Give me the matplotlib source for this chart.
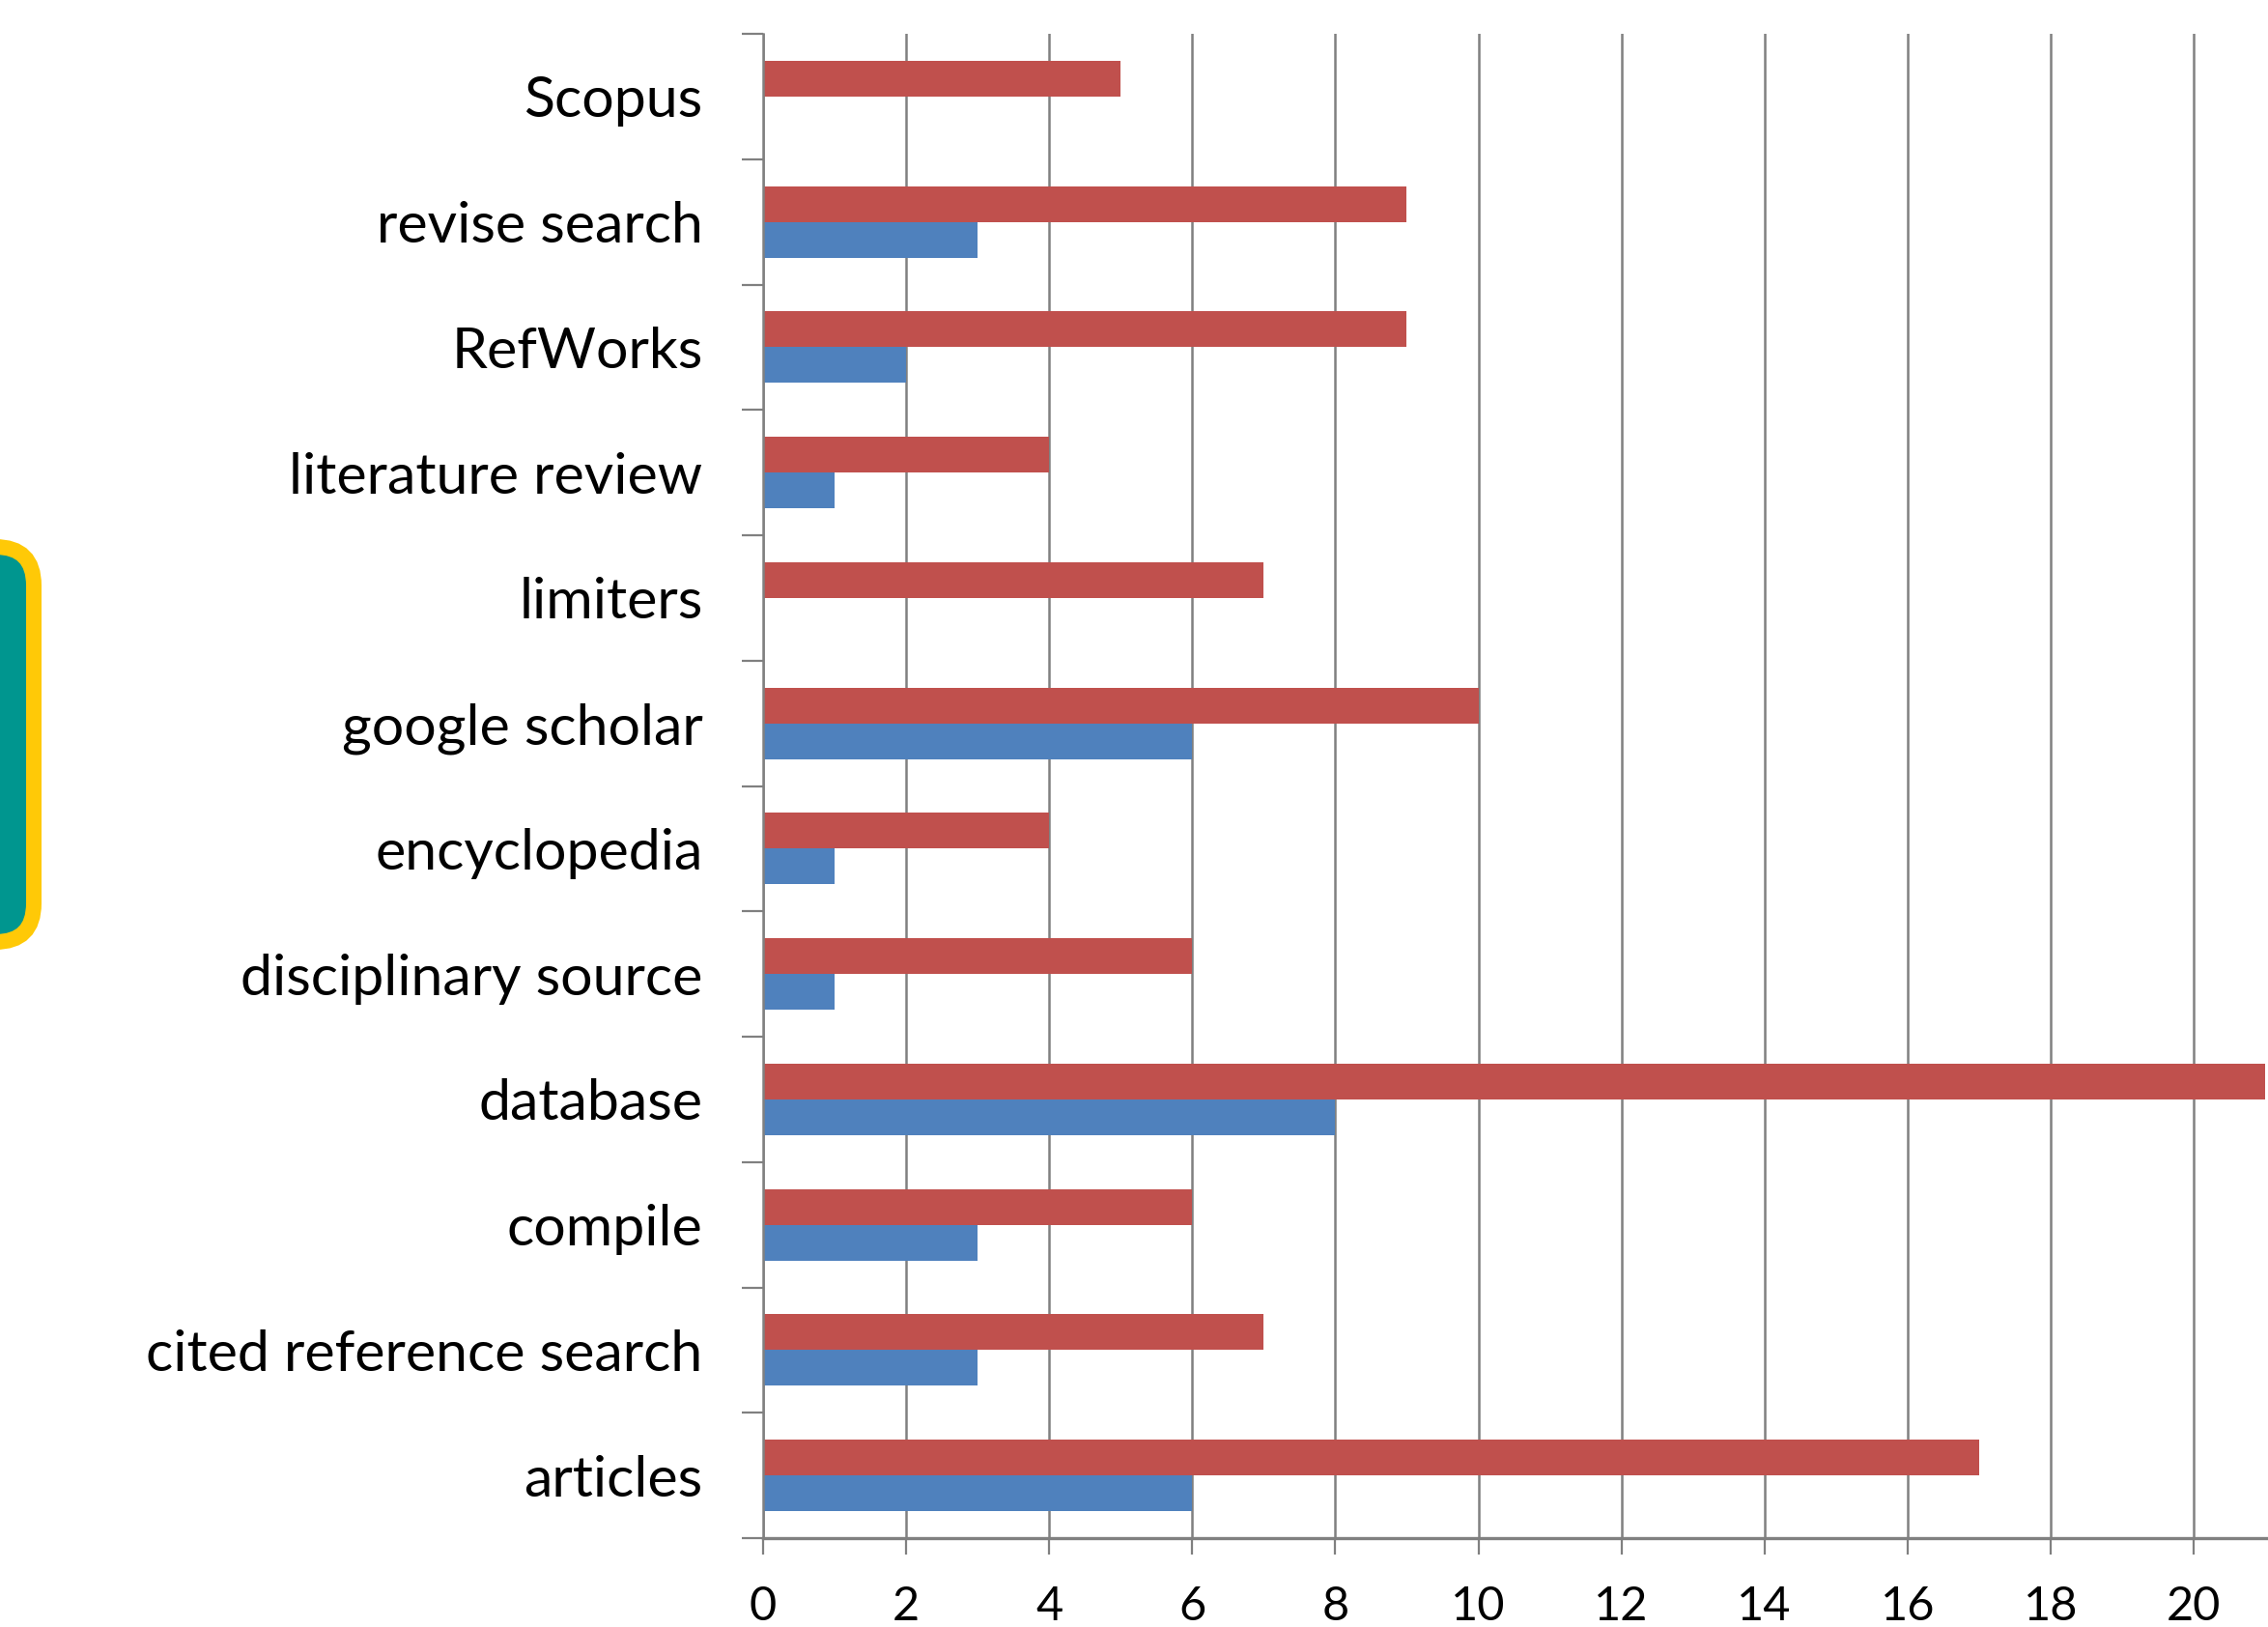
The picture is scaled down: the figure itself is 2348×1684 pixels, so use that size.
import matplotlib.pyplot as plt
from matplotlib.patches import FancyBboxPatch
import numpy as np

# search terms, bottom to top as on the axis
terms = ['articles', 'cited reference search', 'compile', 'database',
         'disciplinary source', 'encyclopedia', 'google scholar', 'limiters',
         'literature review', 'RefWorks', 'revise search', 'Scopus']
blue_vals = [6, 3, 3, 8, 1, 1, 6, 0, 1, 2, 3, 0]
red_vals = [17, 7, 6, 21, 6, 4, 10, 7, 4, 9, 9, 5]
xticks = [0, 2, 4, 6, 8, 10, 12, 14, 16, 18, 20]

plt.rcParams['font.family'] = ['Lato', 'DejaVu Sans']

W, H = 2348, 1684
fig = plt.figure(figsize=(W / 100, H / 100), dpi=100)

# side tab on the left edge
bg = fig.add_axes([0, 0, 1, 1], zorder=-1)
bg.set_xlim(0, W)
bg.set_ylim(H, 0)
bg.axis('off')
tab = FancyBboxPatch((-80, 566), 115, 409,
                     boxstyle='round,pad=0,rounding_size=40',
                     facecolor='#00968f', edgecolor='#ffc907',
                     linewidth=11.5)
bg.add_patch(tab)

left = 790 / W
bottom = 1 - 1592 / H
top = 1 - 35 / H
ax = fig.add_axes([left, bottom, 1 - left, top - bottom])

y = np.arange(len(terms))
bh = 1 / 3.5
ax.barh(y + bh / 2, red_vals, height=bh, color='#c0504d', zorder=2)
ax.barh(y - bh / 2, blue_vals, height=bh, color='#4f81bd', zorder=2)

ax.set_xlim(0, (W - 790) / 74.05)
ax.set_ylim(-0.5, len(terms) - 0.5)

ax.set_xticks(xticks)
ax.set_xticklabels([str(v) for v in xticks], fontsize=35)
ax.set_yticks(y)
ax.set_yticklabels(terms, fontsize=42.5)
ax.set_yticks(np.arange(len(terms) + 1) - 0.5, minor=True)

grey = '#808080'
ax.grid(axis='x', color=grey, linewidth=1.8, zorder=0)
ax.set_axisbelow(True)
ax.tick_params(axis='y', which='major', length=0, pad=45)
ax.tick_params(axis='y', which='minor', length=16, width=1.6, color=grey)
ax.tick_params(axis='x', length=12, width=1.6, color=grey, pad=23)

for s in ['top', 'right']:
    ax.spines[s].set_visible(False)
ax.spines['left'].set_color(grey)
ax.spines['left'].set_linewidth(1.8)
ax.spines['bottom'].set_color(grey)
ax.spines['bottom'].set_linewidth(2.4)

fig.savefig('out.png', dpi=100)
